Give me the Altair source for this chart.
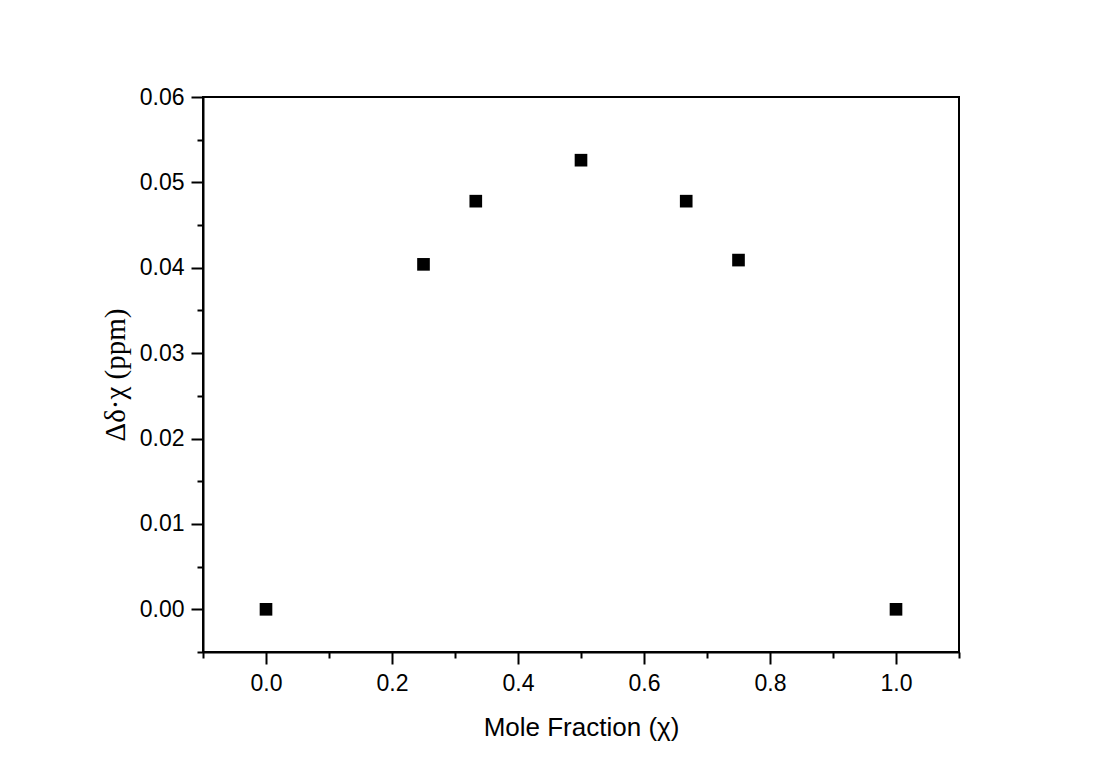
import altair as alt
import pandas as pd

mole_fraction = [0.0, 0.25, 0.333, 0.5, 0.667, 0.75, 1.0]
delta_chi = [0.0, 0.0404, 0.0478, 0.0526, 0.0478, 0.0409, 0.0]

x_ticks = [-0.1, 0.0, 0.1, 0.2, 0.3, 0.4, 0.5, 0.6, 0.7, 0.8, 0.9, 1.0, 1.1]
y_ticks = [-0.005, 0.0, 0.005, 0.01, 0.015, 0.02, 0.025, 0.03, 0.035, 0.04,
           0.045, 0.05, 0.055, 0.06]

df = pd.DataFrame({"x": mole_fraction, "y": delta_chi})

x_minor = "round(datum.value*10) % 2 != 0"
y_minor = "round(datum.value*200) % 2 != 0"

chart = alt.Chart(df).mark_square(color="black", size=160, opacity=1).encode(
    x=alt.X("x:Q", scale=alt.Scale(domain=[-0.1, 1.1], nice=False, zero=False),
            axis=alt.Axis(
                title="Mole Fraction (χ)", values=x_ticks, format=".1f",
                labelExpr=f"({x_minor}) ? '' : datum.label",
                tickSize={"condition": {"test": x_minor, "value": 6}, "value": 12},
                labelFont="Liberation Sans", labelFontSize=23, labelColor="black",
                labelPadding=8,
                titleFont="Liberation Sans", titleFontSize=26, titleFontWeight="normal",
                titleColor="black", titlePadding=19,
                domainColor="black", domainWidth=2, tickColor="black", tickWidth=2,
                grid=False, labelFlush=False, labelOverlap=False)),
    y=alt.Y("y:Q", scale=alt.Scale(domain=[-0.005, 0.06], nice=False, zero=False),
            axis=alt.Axis(
                title="Δδ·χ (ppm)", values=y_ticks, format=".2f",
                labelExpr=f"({y_minor}) ? '' : datum.label",
                tickSize={"condition": {"test": y_minor, "value": 6}, "value": 12},
                labelFont="Liberation Sans", labelFontSize=23, labelColor="black",
                labelPadding=7,
                titleFont="Liberation Serif", titleFontSize=29, titleFontWeight="normal",
                titleColor="black", titlePadding=9,
                domainColor="black", domainWidth=2, tickColor="black", tickWidth=2,
                grid=False, labelFlush=False, labelOverlap=False)),
).properties(
    width=756, height=555,
    padding={"left": 93, "top": 78, "right": 10, "bottom": 10},
    background="white",
).configure_view(stroke="black", strokeWidth=2)

chart.save("out.html", embed_options={"renderer": "svg", "actions": False})
